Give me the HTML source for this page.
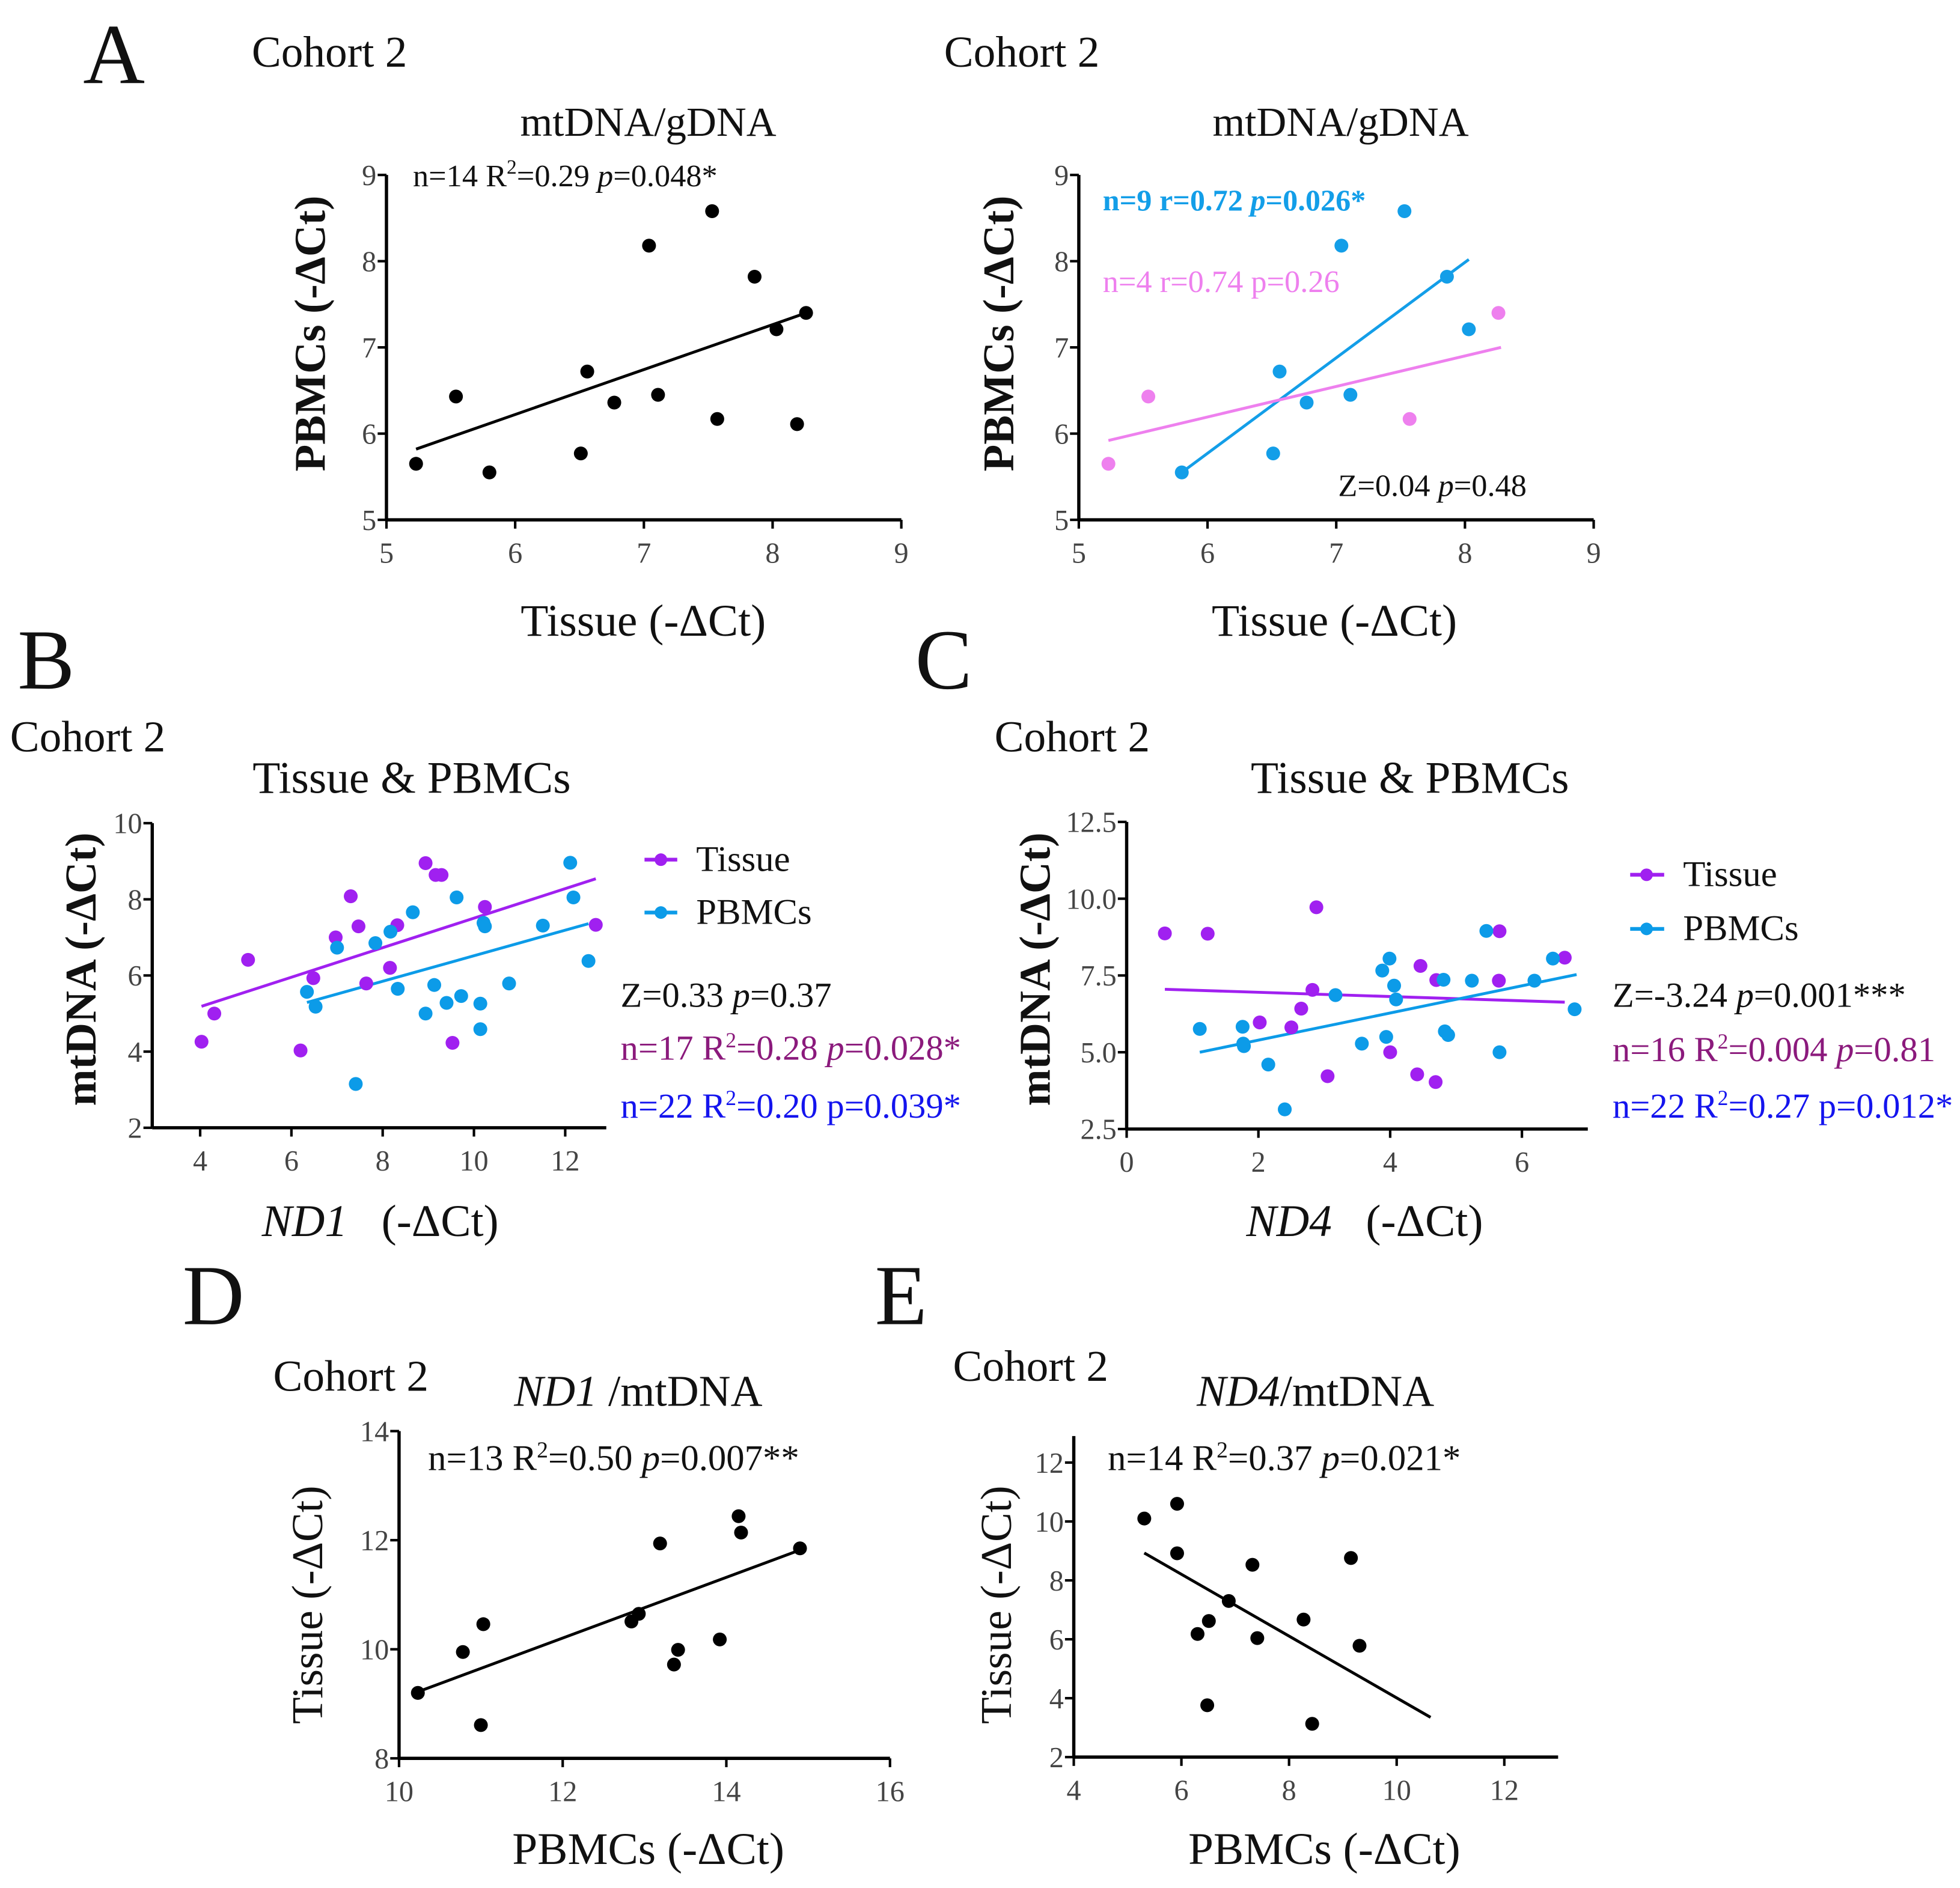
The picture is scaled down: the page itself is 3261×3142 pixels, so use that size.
<!DOCTYPE html>
<html><head><meta charset="utf-8"><style>
html,body{margin:0;padding:0;background:#fff;}
svg{display:block;}
text{font-family:"Liberation Serif",serif;fill:#111;}
.tick{font-size:23px;fill:#444;}
.lab{font-size:36px;}
.ylab{font-size:35px;font-weight:bold;}
.stat{font-size:25px;}
.big{font-size:68px;}
.coh{font-size:35px;}
</style></head><body>
<svg id="fig" xmlns="http://www.w3.org/2000/svg" width="3261" height="3142" viewBox="0 0 1557 1500" preserveAspectRatio="none">
<rect width="1557" height="1500" fill="#fff"/>
<text class="big" x="66" y="66">A</text>
<text class="coh" x="200" y="53">Cohort 2</text>
<text class="coh" x="750" y="53">Cohort 2</text>
<text class="lab" x="515" y="108" text-anchor="middle" style="font-size:33px">mtDNA/gDNA</text>
<text class="lab" x="1065" y="108" text-anchor="middle" style="font-size:33px">mtDNA/gDNA</text>
<text class="stat" x="328" y="148">n=14 R<tspan dy="-10" font-size="16">2</tspan><tspan dy="10">=0.29 </tspan><tspan font-style="italic">p</tspan>=0.048*</text>
<text class="stat" x="876" y="167" style="fill:#139ee8;font-weight:bold;font-size:24px">n=9 r=0.72 <tspan font-style="italic">p</tspan>=0.026*</text>
<text class="stat" x="876" y="232" style="fill:#ee80ee">n=4 r=0.74 p=0.26</text>
<text class="stat" x="1063" y="394">Z=0.04 <tspan font-style="italic">p</tspan>=0.48</text>
<text class="ylab" transform="translate(258,265) rotate(-90)" text-anchor="middle">PBMCs (-ΔCt)</text>
<text class="ylab" transform="translate(805,265) rotate(-90)" text-anchor="middle">PBMCs (-ΔCt)</text>
<text class="lab" x="511" y="505" text-anchor="middle">Tissue (-ΔCt)</text>
<text class="lab" x="1060" y="505" text-anchor="middle">Tissue (-ΔCt)</text>

<text class="big" x="14" y="547">B</text>
<text class="coh" x="8" y="597">Cohort 2</text>
<text class="lab" x="327" y="630" text-anchor="middle">Tissue &amp; PBMCs</text>
<text class="ylab" transform="translate(76,770) rotate(-90)" text-anchor="middle">mtDNA (-ΔCt)</text>
<text class="lab" x="208" y="982" xml:space="preserve"><tspan font-style="italic">ND1</tspan>   (-ΔCt)</text>
<g>
<line x1="512" y1="683" x2="538" y2="683" stroke="#a020f0" stroke-width="3"/><circle cx="525" cy="683" r="5" fill="#a020f0"/>
<text class="stat" x="553" y="692" style="font-size:29px">Tissue</text>
<line x1="512" y1="725" x2="538" y2="725" stroke="#0c9be8" stroke-width="3"/><circle cx="525" cy="725" r="5" fill="#0c9be8"/>
<text class="stat" x="553" y="734" style="font-size:29px">PBMCs</text>
</g>
<text class="stat" x="493" y="800" style="font-size:28px">Z=0.33 <tspan font-style="italic">p</tspan>=0.37</text>
<text class="stat" x="493" y="842" style="fill:#8b1a7c;font-size:28px">n=17 R<tspan dy="-10" font-size="17">2</tspan><tspan dy="10">=0.28 </tspan><tspan font-style="italic">p</tspan>=0.028*</text>
<text class="stat" x="493" y="888" style="fill:#1414ee;font-size:28px">n=22 R<tspan dy="-10" font-size="17">2</tspan><tspan dy="10">=0.20 p=0.039*</tspan></text>

<text class="big" x="727" y="547">C</text>
<text class="coh" x="790" y="597">Cohort 2</text>
<text class="lab" x="1120" y="630" text-anchor="middle">Tissue &amp; PBMCs</text>
<text class="ylab" transform="translate(834,770) rotate(-90)" text-anchor="middle">mtDNA (-ΔCt)</text>
<text class="lab" x="990" y="982" xml:space="preserve"><tspan font-style="italic">ND4</tspan>   (-ΔCt)</text>
<g>
<line x1="1295" y1="695" x2="1322" y2="695" stroke="#a020f0" stroke-width="3"/><circle cx="1308" cy="695" r="5" fill="#a020f0"/>
<text class="stat" x="1337" y="704" style="font-size:29px">Tissue</text>
<line x1="1295" y1="738" x2="1322" y2="738" stroke="#0c9be8" stroke-width="3"/><circle cx="1308" cy="738" r="5" fill="#0c9be8"/>
<text class="stat" x="1337" y="747" style="font-size:29px">PBMCs</text>
</g>
<text class="stat" x="1281" y="800" style="font-size:28px">Z=-3.24 <tspan font-style="italic">p</tspan>=0.001***</text>
<text class="stat" x="1281" y="843" style="fill:#8b1a7c;font-size:28px">n=16 R<tspan dy="-10" font-size="17">2</tspan><tspan dy="10">=0.004 </tspan><tspan font-style="italic">p</tspan>=0.81</text>
<text class="stat" x="1281" y="888" style="fill:#1414ee;font-size:28px">n=22 R<tspan dy="-10" font-size="17">2</tspan><tspan dy="10">=0.27 p=0.012*</tspan></text>

<text class="big" x="145" y="1052">D</text>
<text class="coh" x="217" y="1105">Cohort 2</text>
<text class="lab" x="507" y="1117" text-anchor="middle" style="font-size:35px"><tspan font-style="italic">ND1</tspan> /mtDNA</text>
<text class="stat" x="340" y="1168" style="font-size:29px">n=13 R<tspan dy="-10" font-size="18">2</tspan><tspan dy="10">=0.50 </tspan><tspan font-style="italic">p</tspan>=0.007**</text>
<text class="ylab" transform="translate(256,1275) rotate(-90)" text-anchor="middle" style="font-weight:normal">Tissue (-ΔCt)</text>
<text class="lab" x="515" y="1481" text-anchor="middle">PBMCs (-ΔCt)</text>

<text class="big" x="695" y="1052">E</text>
<text class="coh" x="757" y="1097">Cohort 2</text>
<text class="lab" x="1045" y="1117" text-anchor="middle" style="font-size:35px"><tspan font-style="italic">ND4</tspan>/mtDNA</text>
<text class="stat" x="880" y="1168" style="font-size:29px">n=14 R<tspan dy="-10" font-size="18">2</tspan><tspan dy="10">=0.37 </tspan><tspan font-style="italic">p</tspan>=0.021*</text>
<text class="ylab" transform="translate(803,1275) rotate(-90)" text-anchor="middle" style="font-weight:normal">Tissue (-ΔCt)</text>
<text class="lab" x="1052" y="1481" text-anchor="middle">PBMCs (-ΔCt)</text>
</svg>
<script>
// ---- data ----
const a1X = [5.23,5.54,5.8,6.51,6.56,6.77,7.04,7.11,7.53,7.57,7.86,8.03,8.19,8.26];
const a1Y = [5.65,6.43,5.55,5.77,6.72,6.36,8.18,6.45,8.58,6.17,7.82,7.21,6.11,7.4];
const a1Fit = [[5.23,5.82],[8.28,7.41]];
const a2BlueX = [5.8,6.51,6.56,6.77,7.04,7.11,7.53,7.86,8.03];
const a2BlueY = [5.55,5.77,6.72,6.36,8.18,6.45,8.58,7.82,7.21];
const a2PinkX = [5.23,5.54,7.57,8.26];
const a2PinkY = [5.65,6.43,6.17,7.4];
const a2BlueFit = [[5.8,5.55],[8.03,8.02]];
const a2PinkFit = [[5.23,5.92],[8.28,7.0]];
const aTicksX = [5,6,7,8,9];
const aTicksY = [5,6,7,8,9];

const bTisX = [4.03,4.31,5.05,6.2,6.48,6.97,7.3,7.47,7.64,8.16,8.32,8.94,9.16,9.29,9.53,10.24,12.67];
const bTisY = [4.26,5.0,6.41,4.03,5.93,7.0,8.08,7.29,5.79,6.2,7.32,8.95,8.64,8.64,4.23,7.8,7.33];
const bPbX = [6.34,6.53,7.0,7.41,7.84,8.17,8.33,8.66,8.94,9.13,9.4,9.62,9.72,10.14,10.14,10.21,10.24,10.77,11.51,12.11,12.18,12.51];
const bPbY = [5.57,5.18,6.73,3.15,6.85,7.15,5.65,7.66,5.0,5.75,5.28,8.05,5.46,5.26,4.59,7.38,7.29,5.79,7.31,8.96,8.05,6.38];
const bTisFit = [[4.03,5.19],[12.67,8.54]];
const bPbFit = [[6.34,5.29],[12.51,7.36]];
const bTicksX = [4,6,8,10,12];
const bTicksY = [2,4,6,8,10];

const cTisX = [0.58,1.23,2.88,2.82,2.65,2.02,2.5,3.05,4.0,4.41,4.69,4.46,4.7,5.65,5.66,6.65];
const cTisY = [8.87,8.86,9.72,7.03,6.42,5.97,5.81,4.22,5.0,4.28,4.03,7.81,7.35,7.33,8.94,8.08];
const cPbX = [1.11,1.76,1.77,1.78,2.15,2.4,3.17,3.57,3.88,3.94,3.99,4.06,4.09,4.81,4.83,4.88,5.24,5.46,5.66,6.19,6.47,6.8];
const cPbY = [5.76,5.83,5.28,5.2,4.6,3.14,6.86,5.28,7.66,5.5,8.05,7.17,6.72,7.36,5.68,5.56,7.33,8.95,5.0,7.33,8.05,6.4];
const cTisFit = [[0.58,7.05],[6.65,6.63]];
const cPbFit = [[1.11,5.0],[6.83,7.53]];
const cTicksX = [0,2,4,6];
const cTicksY = [2.5,5.0,7.5,10.0,12.5];
const cTickLabelsY = ["2.5","5.0","7.5","10.0","12.5"];

const dX = [10.23,10.78,11.03,11.0,12.84,12.93,13.19,13.36,13.41,13.92,14.15,14.18,14.9];
const dY = [9.2,9.95,10.46,8.61,10.51,10.65,11.94,9.72,9.99,10.18,12.44,12.14,11.85];
const dFit = [[10.23,9.22],[14.9,11.82]];
const dTicksX = [10,12,14,16];
const dTicksY = [8,10,12,14];

const eX = [5.31,5.92,5.92,6.3,6.51,6.48,6.88,7.32,7.41,8.27,8.43,9.15,9.31];
const eY = [10.1,10.6,8.92,6.18,6.62,3.76,7.3,8.53,6.04,6.67,3.13,8.76,5.78];
const eFit = [[5.31,8.93],[10.63,3.35]];
const eTicksX = [4,6,8,10,12];
const eTicksY = [2,4,6,8,10,12];

// ---- drawing ----
const NS = "http://www.w3.org/2000/svg";
const svg = document.getElementById('fig');
function mk(tag, attrs, parent){
  const e = document.createElementNS(NS, tag);
  for (const k in attrs) e.setAttribute(k, attrs[k]);
  (parent||svg).appendChild(e);
  return e;
}
function makeAxes(id, px0, px1, py0, py1, xd0, xd1, yd0, yd1){
  const sx = v => px0 + (v - xd0) / (xd1 - xd0) * (px1 - px0);
  const sy = v => py0 - (v - yd0) / (yd1 - yd0) * (py0 - py1);
  const g = mk('g', {});
  
  
  return {sx, sy, g};
}
function drawAxes(ax, xMin, xMax, yMin, yMax, ticksX, ticksY, labelsY, name){
  const {sx, sy, g} = ax;
  const xa = mk('line', {x1: sx(xMin), y1: sy(yMin), x2: sx(xMax), y2: sy(yMin), stroke: '#000', 'stroke-width': 2.6}, g);
  
  
  const ya = mk('line', {x1: sx(xMin), y1: sy(yMin), x2: sx(xMin), y2: sy(yMax), stroke: '#000', 'stroke-width': 2.6}, g);
  
  
  ticksX.forEach(t => {
    mk('line', {x1: sx(t), y1: sy(yMin), x2: sx(t), y2: sy(yMin) + 7, stroke: '#000', 'stroke-width': 2}, g);
    const tx = mk('text', {x: sx(t), y: sy(yMin) + 34, 'text-anchor': 'middle', class: 'tick'}, g);
    tx.textContent = String(t);
    
    
  });
  ticksY.forEach((t, i) => {
    mk('line', {x1: sx(xMin) - 7, y1: sy(t), x2: sx(xMin), y2: sy(t), stroke: '#000', 'stroke-width': 2}, g);
    const tx = mk('text', {x: sx(xMin) - 8, y: sy(t) + 8, 'text-anchor': 'end', class: 'tick'}, g);
    tx.textContent = labelsY ? labelsY[i] : String(t);
    
    
  });
}
function drawPoints(ax, xs, ys, color, name){
  xs.forEach((x, i) => {
    const c = mk('circle', {cx: ax.sx(x), cy: ax.sy(ys[i]), r: 5.5, fill: color}, ax.g);
    
    
  });
}
function drawFit(ax, fit, color, name){
  const l = mk('line', {x1: ax.sx(fit[0][0]), y1: ax.sy(fit[0][1]), x2: ax.sx(fit[1][0]), y2: ax.sy(fit[1][1]), stroke: color, 'stroke-width': 2.3}, ax.g);
  
  
}
const PUR = '#a020f0', BLU = '#0c9be8';

const A1 = makeAxes('chart-a1', 307, 716, 413, 139, 5, 9, 5, 9);
drawAxes(A1, 5, 9, 5, 9, aTicksX, aTicksY, null, 'a1');
drawFit(A1, a1Fit, '#000', 'a1');
drawPoints(A1, a1X, a1Y, '#000', 'a1');

const A2 = makeAxes('chart-a2', 857, 1266, 413, 139, 5, 9, 5, 9);
drawAxes(A2, 5, 9, 5, 9, aTicksX, aTicksY, null, 'a2');
drawFit(A2, a2BlueFit, '#139ee8', 'a2-pbmcs');
drawFit(A2, a2PinkFit, '#ee80ee', 'a2-tissue');
drawPoints(A2, a2BlueX, a2BlueY, '#139ee8', 'a2-pbmcs');
drawPoints(A2, a2PinkX, a2PinkY, '#ee80ee', 'a2-tissue');

const B = makeAxes('chart-b', 159, 449, 896, 654, 4, 12, 2, 10);
drawAxes(B, 2.95, 12.9, 2, 10, bTicksX, bTicksY, null, 'b');
drawFit(B, bTisFit, PUR, 'b-tissue');
drawFit(B, bPbFit, BLU, 'b-pbmcs');
drawPoints(B, bTisX, bTisY, PUR, 'b-tissue');
drawPoints(B, bPbX, bPbY, BLU, 'b-pbmcs');

const C = makeAxes('chart-c', 895, 1209, 897, 653, 0, 6, 2.5, 12.5);
drawAxes(C, 0, 7.0, 2.5, 12.5, cTicksX, cTicksY, cTickLabelsY, 'c');
drawFit(C, cTisFit, PUR, 'c-tissue');
drawFit(C, cPbFit, BLU, 'c-pbmcs');
drawPoints(C, cTisX, cTisY, PUR, 'c-tissue');
drawPoints(C, cPbX, cPbY, BLU, 'c-pbmcs');

const D = makeAxes('chart-d', 317, 707, 1397, 1137, 10, 16, 8, 14);
drawAxes(D, 10, 16, 8, 14, dTicksX, dTicksY, null, 'd');
drawFit(D, dFit, '#000', 'd');
drawPoints(D, dX, dY, '#000', 'd');

const E = makeAxes('chart-e', 853, 1195, 1396, 1162, 4, 12, 2, 12);
drawAxes(E, 4, 13, 2, 12.9, eTicksX, eTicksY, null, 'e');
drawFit(E, eFit, '#000', 'e');
drawPoints(E, eX, eY, '#000', 'e');
</script>
</body></html>
